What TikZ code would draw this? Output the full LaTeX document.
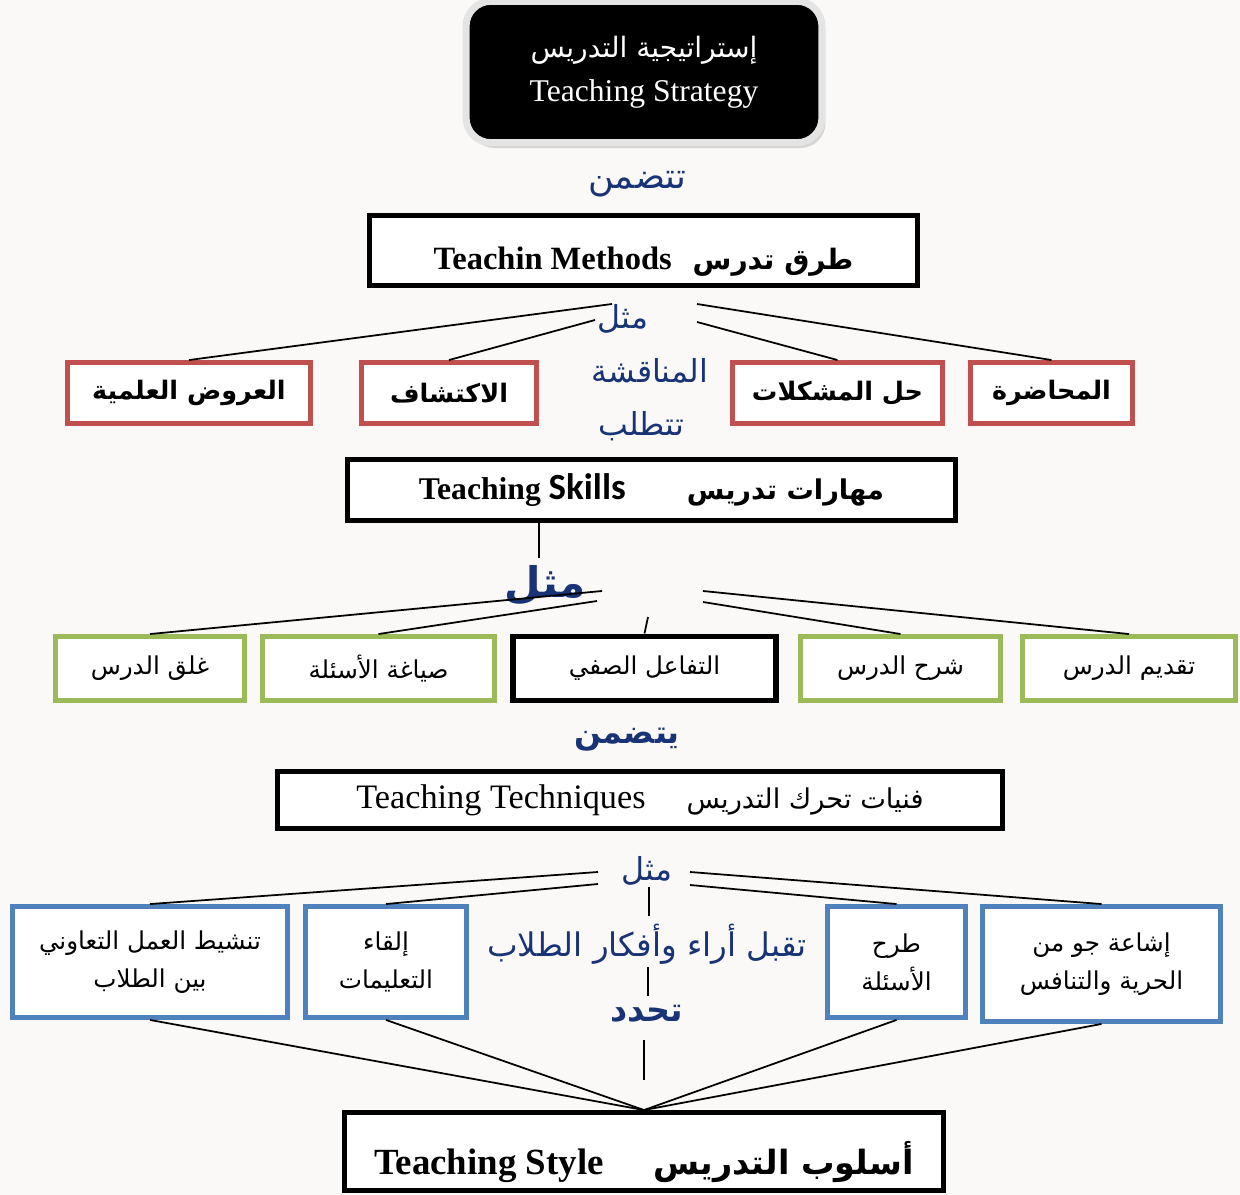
\documentclass[tikz,border=0pt]{standalone}
\usepackage{fontspec}
\setmainfont{Liberation Serif}
\newfontfamily\arabicfont[Script=Arabic]{DejaVu Sans}
\newfontfamily\calibrifont{Carlito}
\TeXXeTstate=1
\usetikzlibrary{shadows}

\definecolor{paper}{RGB}{250,249,247}
\definecolor{rim}{RGB}{228,228,228}
\definecolor{wordblue}{RGB}{24,52,118}
\definecolor{boxred}{RGB}{192,80,77}
\definecolor{boxgreen}{RGB}{155,187,89}
\definecolor{boxblue}{RGB}{79,129,189}

\tikzset{
    link/.style={line width=1pt},
    headbox/.style={draw=black, line width=2.8pt, fill=white, inner sep=0pt},
    methodbox/.style={draw=boxred, line width=2.8pt, fill=white, inner sep=0pt,
        minimum height=1.22cm, font=\arabicfont\bfseries\fontsize{14.5}{18}\selectfont},
    skillbox/.style={draw=boxgreen, line width=2.8pt, fill=white, inner sep=0pt,
        minimum height=1.28cm, font=\arabicfont\fontsize{14}{17}\selectfont},
    techbox/.style={draw=boxblue, line width=2.8pt, fill=white, inner sep=0pt,
        minimum height=2.22cm, align=center, font=\arabicfont\fontsize{14}{21.5}\selectfont},
    word/.style={text=wordblue, inner sep=0pt, font=\arabicfont\fontsize{18}{20}\selectfont},
}

\begin{document}
\begin{tikzpicture}[x=0.02cm, y=-0.02cm]
    \fill[paper] (0,0) rectangle (1240,1195);
    \useasboundingbox (0,0) rectangle (1240,1195);

    \node[fill=black, draw=rim, line width=4pt, rounded corners=0.5cm,
        drop shadow={shadow xshift=2pt, shadow yshift=-3pt, fill=gray!60},
        minimum width=7.12cm, minimum height=2.83cm, text=white, align=center,
        font=\fontsize{18}{25}\selectfont] (strategy) at (644,72)
        {{\arabicfont\fontsize{16}{25}\selectfont\beginR إستراتيجية التدريس\endR}\\Teaching Strategy};

    \node[word, font=\arabicfont\fontsize{20}{22}\selectfont] (includes) at (637,184) {\beginR تتضمن\endR};

    \node[headbox, minimum width=10.96cm, minimum height=1.4cm, text height=22pt, text depth=0pt,
        font=\bfseries\fontsize{18.5}{20}\selectfont] (methods) at (643.5,250.5)
        {Teachin Methods\hspace{0.42cm}{\arabicfont\fontsize{16}{20}\selectfont\beginR طرق تدرس\endR}};

    \node[word] (example1) at (623,319) {\beginR مثل\endR};
    \node[word] (discussion) at (650,371) {\beginR المناقشة\endR};
    \node[word] (requires) at (641,426) {\beginR تتطلب\endR};

    \node[methodbox, minimum width=4.86cm] (demos) at (189,393) {\beginR العروض العلمية\endR};
    \node[methodbox, minimum width=3.5cm] (discovery) at (449,393) {\beginR الاكتشاف\endR};
    \node[methodbox, minimum width=4.2cm] (problems) at (837.5,393) {\beginR حل المشكلات\endR};
    \node[methodbox, minimum width=3.24cm] (lecture) at (1051.5,393) {\beginR المحاضرة\endR};

    \coordinate (m1) at (612,304);
    \coordinate (m2) at (595,320);
    \coordinate (m3) at (697,322);
    \coordinate (m4) at (697,304);
    \draw[link] (m1) -- (demos.north);
    \draw[link] (m2) -- (discovery.north);
    \draw[link] (m3) -- (problems.north);
    \draw[link] (m4) -- (lecture.north);

    \node[headbox, minimum width=12.16cm, minimum height=1.22cm,
        font=\bfseries\fontsize{18}{20}\selectfont] (skills) at (651.5,490)
        {Teaching {\calibrifont\fontsize{21}{22}\selectfont Skills}\hspace{1.22cm}{\arabicfont\fontsize{15.5}{20}\selectfont\beginR مهارات تدريس\endR}};

    \coordinate (sdrop) at (539,558);
    \draw[link] (skills.south -| sdrop) -- (sdrop);
    \node[word, font=\arabicfont\bfseries\fontsize{24}{26}\selectfont] (example2) at (545,585) {\beginR مثل\endR};

    \node[skillbox, minimum width=3.78cm] (closing) at (150,668.5) {\beginR غلق الدرس\endR};
    \node[skillbox, minimum width=4.64cm] (questions) at (378.5,668.5) {\beginR صياغة الأسئلة\endR};
    \node[skillbox, draw=black, line width=3.4pt, minimum width=5.26cm] (interaction) at (644.5,668.5) {\beginR التفاعل الصفي\endR};
    \node[skillbox, minimum width=4cm] (explaining) at (900.5,668.5) {\beginR شرح الدرس\endR};
    \node[skillbox, minimum width=4.26cm] (introducing) at (1129,668.5) {\beginR تقديم الدرس\endR};

    \coordinate (s1) at (602,591);
    \coordinate (s2) at (597,601);
    \coordinate (s3) at (648,617);
    \coordinate (s4) at (703,602);
    \coordinate (s5) at (703,591);
    \draw[link] (s1) -- (closing.north);
    \draw[link] (s2) -- (questions.north);
    \draw[link] (s3) -- (interaction.north);
    \draw[link] (s4) -- (explaining.north);
    \draw[link] (s5) -- (introducing.north);

    \node[word, font=\arabicfont\bfseries\fontsize{18}{20}\selectfont] (contains) at (627,740) {\beginR يتضمن\endR};

    \node[headbox, minimum width=14.5cm, minimum height=1.14cm,
        font=\fontsize{19.5}{21}\selectfont] (techniques) at (640,800)
        {Teaching Techniques\hspace{0.82cm}{\arabicfont\fontsize{15.5}{20}\selectfont\beginR فنيات تحرك التدريس\endR}};

    \node[word] (example3) at (647,871) {\beginR مثل\endR};
    \node[word, font=\arabicfont\fontsize{18.5}{20}\selectfont] (accepting) at (647,944) {\beginR تقبل أراء وأفكار الطلاب\endR};
    \node[word, font=\arabicfont\bfseries\fontsize{19}{21}\selectfont] (defines) at (647,1014) {\beginR تحدد\endR};

    \coordinate (v1) at (649,887);
    \coordinate (v2) at (649,916);
    \coordinate (v3) at (648,967);
    \coordinate (v4) at (648,996);
    \coordinate (v5) at (644,1040);
    \coordinate (v6) at (644,1080);
    \draw[link] (v1) -- (v2);
    \draw[link] (v3) -- (v4);
    \draw[link] (v5) -- (v6);

    \node[techbox, minimum width=5.5cm] (cooperation) at (150,962)
        {\beginR تنشيط العمل التعاوني\endR\\\beginR بين الطلاب\endR};
    \node[techbox, minimum width=3.22cm] (instructions) at (386,962)
        {\beginR إلقاء\endR\\\beginR التعليمات\endR};
    \node[techbox, minimum width=2.76cm] (asking) at (896.5,962)
        {\beginR طرح\endR\\\beginR الأسئلة\endR};
    \node[techbox, minimum width=4.76cm, minimum height=2.3cm] (freedom) at (1101.5,964)
        {\beginR إشاعة جو من\endR\\\beginR الحرية والتنافس\endR};

    \coordinate (t1) at (598,872);
    \coordinate (t2) at (598,884);
    \coordinate (t3) at (690,885);
    \coordinate (t4) at (690,872);
    \draw[link] (t1) -- (cooperation.north);
    \draw[link] (t2) -- (instructions.north);
    \draw[link] (t3) -- (asking.north);
    \draw[link] (t4) -- (freedom.north);

    \node[headbox, minimum width=11.98cm, minimum height=1.56cm, text height=26pt, text depth=0pt,
        font=\bfseries\fontsize{21}{23}\selectfont] (style) at (644,1151.5)
        {Teaching Style\hspace{1cm}{\arabicfont\fontsize{19}{23}\selectfont\beginR أسلوب التدريس\endR}};

    \draw[link] (cooperation.south) -- (style.north);
    \draw[link] (instructions.south) -- (style.north);
    \draw[link] (asking.south) -- (style.north);
    \draw[link] (freedom.south) -- (style.north);
\end{tikzpicture}
\end{document}
